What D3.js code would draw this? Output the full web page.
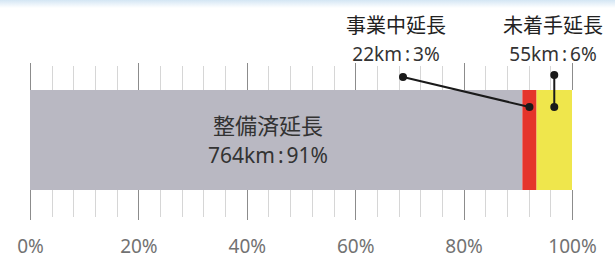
<!doctype html>
<html>
<head>
<meta charset="utf-8">
<title>延長の内訳</title>
<style>
  body { margin:0; background:#fff; }
  svg { display:block; font-family:"Noto Sans CJK JP","Noto Sans",sans-serif; }
  .tick line { shape-rendering:crispEdges; }
</style>
<script src="https://cdn.jsdelivr.net/npm/d3@7"></script>
</head>
<body>
<svg id="chart" width="615" height="259"></svg>
<script>
// データ
var categories = ["整備済延長", "事業中延長", "未着手延長"]
var lengths = [764, 22, 55]          // km
var shares = ["91%", "3%", "6%"]
var barColors = ["#b9b8c2", "#e5342b", "#efe64c"]
var majorTicks = [0, 20, 40, 60, 80, 100]
var minorTicks = d3.range(0, 101, 4)

var svg = d3.select("#chart")

// 上の薄い帯
var grad = svg.append("defs").append("linearGradient")
  .attr("id", "topband").attr("x1", 0).attr("y1", 0).attr("x2", 0).attr("y2", 1)
grad.append("stop").attr("offset", 0).attr("stop-color", "#d4e6f4")
grad.append("stop").attr("offset", 1).attr("stop-color", "#ffffff")
svg.append("rect").attr("x", 0).attr("y", 0).attr("width", 615).attr("height", 8)
  .attr("fill", "url(#topband)")

var barTop = 90, barBottom = 190
var x = d3.scaleLinear().domain([0, 100]).range([30, 572])

// 累積%
var total = d3.sum(lengths)
var stack = []
var acc = 0
lengths.forEach(function(v, i) {
  stack.push({ name: categories[i], km: v, share: shares[i], x0: acc, x1: acc + v / total * 100, color: barColors[i] })
  acc += v / total * 100
})

// 目盛り（副）
svg.append("g").attr("transform", "translate(0," + barTop + ")")
  .call(d3.axisTop(x).tickValues(minorTicks).tickSize(24).tickFormat(""))
  .call(function(g) { g.select(".domain").remove(); g.selectAll("line").attr("stroke", "#d6d6d6") })
svg.append("g").attr("transform", "translate(0," + barBottom + ")")
  .call(d3.axisBottom(x).tickValues(minorTicks).tickSize(27).tickFormat(""))
  .call(function(g) { g.select(".domain").remove(); g.selectAll("line").attr("stroke", "#d6d6d6") })

// 目盛り（主）
svg.append("g").attr("transform", "translate(0," + barTop + ")")
  .call(d3.axisTop(x).tickValues(majorTicks).tickSize(27).tickFormat(""))
  .call(function(g) { g.select(".domain").remove(); g.selectAll("line").attr("stroke", "#8c8c8c") })
var bottomAxis = svg.append("g").attr("transform", "translate(0," + barBottom + ")")
  .call(d3.axisBottom(x).tickValues(majorTicks).tickSize(30).tickFormat(function(d) { return d + "%" }))
bottomAxis.select(".domain").remove()
bottomAxis.selectAll("line").attr("stroke", "#8c8c8c")
bottomAxis.selectAll("text")
  .attr("y", 56).attr("dy", "0.35em")
  .attr("fill", "#727272")
  .style("font-size", "19px")
  .style("font-family", "'Noto Sans',sans-serif")

// 帯グラフ
svg.selectAll("rect.seg").data(stack).enter().append("rect")
  .attr("class", "seg")
  .attr("x", function(d) { return x(d.x0) })
  .attr("y", barTop)
  .attr("width", function(d) { return x(d.x1) - x(d.x0) })
  .attr("height", barBottom - barTop)
  .attr("fill", function(d) { return d.color })

// "764km : 91%" の形で書く
function kmText(sel, d) {
  sel.append("tspan").text(d.km + "km")
  sel.append("tspan").attr("dx", 3).text(":")
  sel.append("tspan").attr("dx", 3).text(d.share)
}

// 整備済のラベル（帯の中）
var s0 = stack[0]
svg.append("text").attr("x", 268).attr("y", 124).attr("text-anchor", "middle")
  .attr("dominant-baseline", "central").attr("fill", "#333")
  .style("font-size", "22px").text(s0.name)
svg.append("text").attr("x", 268).attr("y", 155).attr("text-anchor", "middle")
  .attr("dominant-baseline", "central").attr("fill", "#333")
  .style("font-size", "21px").style("font-family", "'Noto Sans',sans-serif")
  .call(kmText, s0)

// 引き出し線付きラベル
var callouts = [
  { seg: stack[1], lx: 396, dotX: 403, dotY: 77 },
  { seg: stack[2], lx: 553, dotX: null, dotY: 75 }
]
callouts.forEach(function(c) {
  var cx = x((c.seg.x0 + c.seg.x1) / 2)
  var dx = c.dotX === null ? cx : c.dotX
  var cy = 107
  svg.append("line").attr("x1", dx).attr("y1", c.dotY).attr("x2", cx).attr("y2", cy)
    .attr("stroke", "#1a1a1a").attr("stroke-width", 2)
  svg.append("circle").attr("cx", dx).attr("cy", c.dotY).attr("r", 4).attr("fill", "#1a1a1a")
  svg.append("circle").attr("cx", cx).attr("cy", cy).attr("r", 4).attr("fill", "#1a1a1a")
  svg.append("text").attr("x", c.lx).attr("y", 24).attr("text-anchor", "middle")
    .attr("dominant-baseline", "central").attr("fill", "#222")
    .style("font-size", "20px").text(c.seg.name)
  svg.append("text").attr("x", c.lx).attr("y", 54).attr("text-anchor", "middle")
    .attr("dominant-baseline", "central").attr("fill", "#333")
    .style("font-size", "19px").style("font-family", "'Noto Sans',sans-serif")
    .call(kmText, c.seg)
})
</script>
</body>
</html>
